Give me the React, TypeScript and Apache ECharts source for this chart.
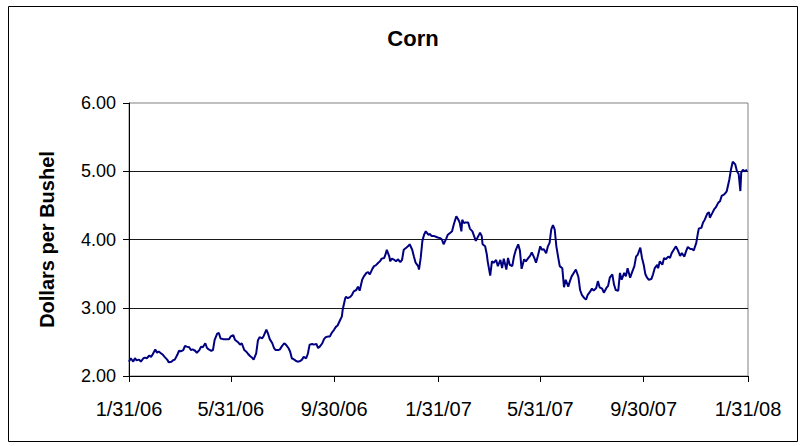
import React, { useEffect, useRef } from "react";
import * as echarts from "echarts";

// Days since 1/31/06 for each plotted trading day
const dayOffsets: number[] = [
  0, 2, 5, 7, 9, 12, 14, 17, 19, 21,
  24, 26, 28, 31, 33, 35, 38, 40, 42, 45,
  47, 50, 52, 54, 57, 59, 61, 64, 66, 68,
  71, 73, 75, 78, 80, 83, 85, 87, 90, 92,
  94, 97, 99, 101, 104, 106, 108, 111, 113, 116,
  118, 120, 123, 125, 126, 129, 131, 133, 136, 138,
  140, 143, 145, 147, 150, 152, 154, 157, 159, 162,
  164, 166, 169, 171, 173, 176, 178, 180, 183, 185,
  188, 190, 192, 195, 197, 199, 202, 204, 206, 209,
  211, 213, 216, 218, 221, 223, 225, 228, 230, 232,
  235, 237, 239, 242, 244, 246, 249, 251, 252, 255,
  256, 258, 261, 263, 265, 268, 270, 272, 275, 277,
  280, 282, 284, 287, 289, 291, 294, 296, 298, 301,
  303, 304, 307, 308, 310, 313, 315, 317, 320, 322,
  324, 327, 329, 331, 334, 336, 338, 341, 342, 344,
  346, 348, 350, 353, 355, 357, 360, 362, 364, 367,
  369, 371, 374, 376, 379, 381, 383, 386, 388, 390,
  392, 393, 395, 397, 400, 402, 405, 407, 409, 412,
  414, 416, 417, 420, 422, 423, 426, 428, 430, 433,
  435, 438, 440, 442, 445, 447, 449, 452, 454, 456,
  459, 461, 463, 466, 468, 471, 473, 475, 478, 480,
  482, 485, 487, 489, 492, 494, 496, 498, 500, 502,
  504, 506, 508, 511, 513, 515, 518, 520, 522, 525,
  527, 530, 532, 534, 537, 539, 541, 544, 546, 548,
  551, 553, 555, 558, 560, 563, 565, 567, 570, 572,
  574, 577, 579, 581, 584, 586, 588, 591, 593, 596,
  598, 600, 603, 605, 607, 609, 611, 613, 616, 618,
  620, 623, 624, 626, 629, 631, 633, 636, 638, 640,
  643, 645, 647, 650, 652, 655, 657, 659, 662, 664,
  666, 669, 671, 672, 675, 677, 679, 682, 684, 685,
  688, 690, 692, 695, 697, 699, 702, 704, 705, 708,
  710, 712, 715, 717, 719, 721, 722, 724, 726, 729,
];

// Corn price, dollars per bushel
const cornPrices: number[] = [
  2.21, 2.26, 2.21, 2.26, 2.23, 2.24, 2.21, 2.26, 2.27, 2.26,
  2.30, 2.28, 2.32, 2.39, 2.34, 2.36, 2.33, 2.31, 2.28, 2.24,
  2.20, 2.21, 2.23, 2.24, 2.31, 2.37, 2.36, 2.38, 2.44, 2.43,
  2.42, 2.38, 2.39, 2.37, 2.34, 2.38, 2.43, 2.42, 2.48, 2.41,
  2.39, 2.37, 2.38, 2.53, 2.62, 2.63, 2.55, 2.54, 2.54, 2.54,
  2.54, 2.58, 2.60, 2.53, 2.52, 2.49, 2.46, 2.48, 2.38, 2.36,
  2.33, 2.29, 2.27, 2.24, 2.33, 2.52, 2.57, 2.55, 2.59, 2.68,
  2.62, 2.54, 2.48, 2.41, 2.38, 2.38, 2.39, 2.43, 2.48, 2.46,
  2.41, 2.36, 2.26, 2.24, 2.22, 2.21, 2.22, 2.24, 2.28, 2.26,
  2.33, 2.46, 2.47, 2.46, 2.47, 2.41, 2.43, 2.48, 2.54, 2.57,
  2.58, 2.58, 2.63, 2.68, 2.72, 2.74, 2.82, 2.87, 2.97, 3.14,
  3.16, 3.14, 3.16, 3.19, 3.24, 3.26, 3.31, 3.25, 3.41, 3.46,
  3.51, 3.52, 3.49, 3.57, 3.61, 3.62, 3.66, 3.68, 3.72, 3.73,
  3.80, 3.85, 3.75, 3.68, 3.72, 3.70, 3.68, 3.71, 3.67, 3.70,
  3.85, 3.88, 3.90, 3.93, 3.85, 3.75, 3.66, 3.61, 3.56, 3.73,
  3.98, 4.07, 4.12, 4.07, 4.08, 4.05, 4.05, 4.04, 4.03, 4.02,
  4.00, 3.93, 4.01, 4.07, 4.10, 4.12, 4.22, 4.34, 4.30, 4.25,
  4.12, 4.29, 4.24, 4.25, 4.25, 4.16, 4.12, 4.05, 3.98, 4.05,
  4.10, 4.05, 3.93, 3.90, 3.78, 3.68, 3.47, 3.68, 3.66, 3.70,
  3.61, 3.70, 3.58, 3.72, 3.56, 3.73, 3.63, 3.61, 3.75, 3.84,
  3.93, 3.84, 3.57, 3.71, 3.68, 3.73, 3.76, 3.81, 3.73, 3.66,
  3.75, 3.90, 3.85, 3.86, 3.80, 3.90, 3.95, 4.15, 4.21, 4.15,
  3.90, 3.75, 3.61, 3.58, 3.30, 3.41, 3.31, 3.39, 3.46, 3.52,
  3.56, 3.45, 3.26, 3.19, 3.14, 3.12, 3.19, 3.24, 3.28, 3.25,
  3.29, 3.39, 3.30, 3.28, 3.22, 3.29, 3.32, 3.44, 3.49, 3.34,
  3.26, 3.25, 3.51, 3.41, 3.51, 3.46, 3.58, 3.44, 3.51, 3.61,
  3.75, 3.78, 3.88, 3.73, 3.63, 3.49, 3.44, 3.41, 3.42, 3.49,
  3.58, 3.63, 3.58, 3.68, 3.63, 3.73, 3.71, 3.75, 3.73, 3.80,
  3.86, 3.90, 3.85, 3.76, 3.80, 3.75, 3.83, 3.89, 3.86, 3.86,
  3.84, 3.95, 4.10, 4.16, 4.17, 4.25, 4.29, 4.38, 4.40, 4.32,
  4.39, 4.44, 4.47, 4.54, 4.56, 4.64, 4.66, 4.69, 4.71, 4.88,
  5.03, 5.14, 5.10, 5.00, 4.96, 4.71, 4.98, 5.02, 5.00, 5.02,
];

// X tick positions (days since 1/31/06) and their labels
const xTickDays: number[] = [0, 120, 242, 365, 485, 607, 730];
const xTickLabels: string[] = ["1/31/06", "5/31/06", "9/30/06", "1/31/07", "5/31/07", "9/30/07", "1/31/08"];

const FONT = "'Liberation Sans', Arial, Helvetica, sans-serif";

export default function App() {
  const ref = useRef<HTMLDivElement>(null);

  useEffect(() => {
    if (!ref.current) return;
    const chart = echarts.init(ref.current, undefined, { renderer: "svg" });
    const n = Math.min(dayOffsets.length, cornPrices.length);
    const data: [number, number][] = [];
    for (let i = 0; i < n; i++) data.push([dayOffsets[i], cornPrices[i]]);

    chart.setOption({
      animation: false,
      backgroundColor: "#ffffff",
      title: {
        text: "Corn",
        left: 408,
        top: 22,
        textAlign: "center",
        textStyle: { fontFamily: FONT, fontSize: 22, fontWeight: "bold", color: "#000" },
      },
      graphic: [
        {
          type: "rect",
          shape: { x: 8.5, y: 6.5, width: 789, height: 435 },
          style: { fill: "none", stroke: "#000", lineWidth: 1 },
          silent: true,
        },
      ],
      grid: {
        left: 129,
        right: 55,
        top: 103,
        bottom: 70,
        show: true,
        borderColor: "#808080",
        borderWidth: 1,
        backgroundColor: "transparent",
      },
      xAxis: {
        type: "value",
        min: 0,
        max: 730,
        axisLine: { show: true, onZero: false, lineStyle: { color: "#000", width: 1 } },
        axisTick: {
          show: true,
          inside: false,
          length: 6,
          customValues: xTickDays,
          lineStyle: { color: "#000" },
        },
        axisLabel: {
          customValues: xTickDays,
          margin: 23,
          fontFamily: FONT,
          fontSize: 20,
          color: "#000",
          formatter: (v: number) => {
            const i = xTickDays.indexOf(Math.round(v));
            return i >= 0 ? xTickLabels[i] : "";
          },
        },
        splitLine: { show: false },
      },
      yAxis: {
        type: "value",
        min: 2,
        max: 6,
        interval: 1,
        name: "Dollars per Bushel",
        nameLocation: "middle",
        nameGap: 72,
        nameTextStyle: { fontFamily: FONT, fontSize: 20, fontWeight: "bold", color: "#000" },
        axisLine: { show: true, lineStyle: { color: "#000", width: 1 } },
        axisTick: { show: true, inside: false, length: 6, lineStyle: { color: "#000" } },
        axisLabel: {
          margin: 13,
          fontFamily: FONT,
          fontSize: 18,
          color: "#000",
          formatter: (v: number) => v.toFixed(2),
        },
        splitLine: {
          show: true,
          showMinLine: false,
          showMaxLine: false,
          lineStyle: { color: "#1a1a1a", width: 1 },
        },
      },
      series: [
        {
          type: "line",
          data,
          showSymbol: false,
          symbol: "none",
          lineStyle: { color: "#000080", width: 2 },
          z: 3,
        },
      ],
    });
    return () => chart.dispose();
  }, []);

  return (
    <div
      ref={ref}
      style={{ position: "fixed", left: 0, top: 0, width: 803, height: 446 }}
    />
  );
}
